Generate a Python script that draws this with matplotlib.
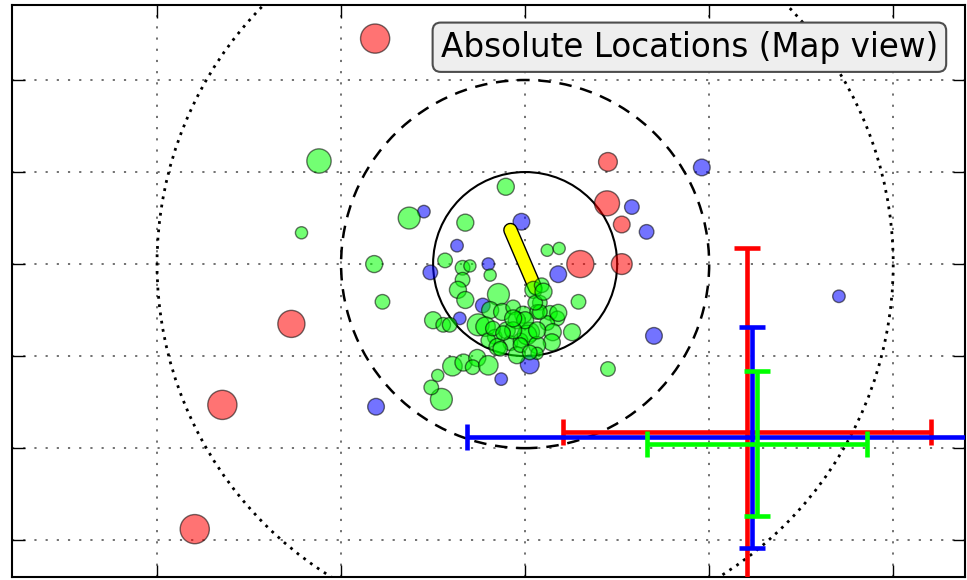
import matplotlib
matplotlib.use("Agg")
from matplotlib import pyplot as plt
from matplotlib.patches import Circle
from matplotlib.ticker import MultipleLocator
import matplotlib.patheffects as pe

# event locations (km, relative to centre) and marker radius
red_x = [-1.63, 0.90, 0.89, 1.05, 0.60, 1.05, -2.54, -3.29, -3.59]
red_y = [2.45, 1.11, 0.66, 0.43, 0.00, 0.00, -0.65, -1.53, -2.88]
red_r = [14, 9, 12, 8, 13, 10, 13, 14, 14]

blue_x = [1.92, 1.16, 1.32, -1.10, -0.04, -0.74, -0.40, 0.36, -1.03, 3.41,
          1.40, 0.05, -0.26, -1.62, -0.46, -0.71]
blue_y = [1.05, 0.62, 0.35, 0.57, 0.46, 0.20, 0.00, -0.11, -0.09, -0.35,
          -0.78, -1.09, -1.25, -1.55, -0.45, -0.59]
blue_r = [8, 7, 7, 6, 8, 6, 6, 8, 7, 6, 8, 9, 6, 8, 7, 6]

green_x = [-2.24, -2.43, -1.26, -1.64, -1.55, -0.21, -0.65, -0.87, -0.68, -0.60,
           0.24, 0.37, 0.58, 0.51, 0.90, -0.91, -1.02, -0.95, -0.79, -0.67,
           -0.52, -0.57, -0.40, -0.68, -0.38, -0.73, -0.65, -0.29, 0.09, 0.18,
           0.16, -1.00, -0.89, -0.82, -0.51, -0.38, -0.25, -0.13, -0.02, 0.13,
           0.27, 0.35, -0.43, -0.33, -0.40, -0.20, -0.09, 0.05, 0.24, 0.30,
           -0.16, -0.05, 0.02, 0.29, -0.30, 0.13, -0.09, 0.13,
           0.00, -0.35, -0.13, 0.13, -0.24, -0.05, 0.05, 0.16, 0.36, -0.13,
           0.11, -0.27, 0.20]
green_y = [1.12, 0.34, 0.50, 0.00, -0.41, 0.84, 0.45, 0.04, -0.04, -0.02,
           0.15, 0.17, -0.41, -0.74, -1.14, -1.47, -1.34, -1.21, -1.11, -1.07,
           -1.02, -1.12, -1.10, -0.17, -0.12, -0.28, -0.39, -0.33, -0.28, -0.23,
           -0.42, -0.61, -0.66, -0.66, -0.66, -0.50, -0.52, -0.47, -0.55, -0.52,
           -0.53, -0.59, -0.68, -0.79, -0.83, -0.72, -0.61, -0.74, -0.64, -0.74,
           -0.86, -0.83, -0.77, -0.85, -0.90, -0.88, -0.99, -0.97,
           -0.61, -0.70, -0.72, -0.72, -0.75, -0.88, -0.96, -0.52, -0.53, -0.59,
           -0.42, -0.92, -0.30]
green_r = [10, 5, 9, 7, 6, 7, 7, 6, 6, 5,
           5, 5, 6, 7, 6, 9, 6, 5, 8, 7,
           7, 6, 8, 6, 5, 7, 7, 9, 7, 6,
           6, 7, 6, 6, 9, 7, 7, 6, 7, 6,
           6, 6, 8, 6, 6, 7, 7, 8, 6, 7,
           6, 6, 8, 7, 7, 7, 7, 5,
           7, 6, 7, 7, 6, 6, 6, 6, 7, 7,
           6, 6, 7]

# fault stick
stick_x = [-0.16, 0.11]
stick_y = [0.37, -0.26]

# error crosses: x, y, xerr, yerr
err_x = [2.41, 2.46, 2.52]
err_y = [-1.82, -1.88, -1.95]
err_dx = [2.0, 3.09, 1.2]
err_dy = [2.0, 1.2, 0.79]
err_col = ["#ff0000", "#0000ff", "#00ff00"]

radii = [1, 2, 4]

fig = plt.figure(figsize=(9.67, 5.8), dpi=100)
ax = fig.add_axes([12 / 967, 3 / 580, 953 / 967, 572 / 580])
ax.set_xlim(-5.576, 4.78)
ax.set_ylim(-3.40, 2.815)

ax.xaxis.set_major_locator(MultipleLocator(2))
ax.yaxis.set_major_locator(MultipleLocator(1))
ax.tick_params(direction="in", length=9, width=1, top=True, right=True,
               labelbottom=False, labelleft=False)
ax.grid(True, linestyle=(0, (1.2, 5)), color="0.4", linewidth=1.3)
for s in ax.spines.values():
    s.set_linewidth(1.5)

ax.add_patch(Circle((0, 0), radii[0], fill=False, ec="k", lw=1.5, zorder=3))
ax.add_patch(Circle((0, 0), radii[1], fill=False, ec="k", lw=1.8, ls=(0, (5, 3.5)), zorder=3))
ax.add_patch(Circle((0, 0), radii[2], fill=False, ec="k", lw=2.0, ls=(0, (1, 2)), zorder=3))

def sz(r, k=1.5):
    return [(k * v) ** 2 for v in r]

ax.scatter(red_x, red_y, s=sz(red_r), c="#ff0000", alpha=0.55, edgecolors="k", linewidths=1, zorder=4)
ax.scatter(blue_x, blue_y, s=sz(blue_r), c="#0000ff", alpha=0.55, edgecolors="k", linewidths=1, zorder=4)
ax.plot(stick_x, stick_y, color="yellow", lw=8.5, solid_capstyle="round", zorder=5,
        path_effects=[pe.Stroke(linewidth=10.5, foreground="k"), pe.Normal()])
ax.scatter(green_x, green_y, s=sz(green_r, 1.75), c="#00ff00", alpha=0.55, edgecolors="k", linewidths=1, zorder=6)

for i in range(3):
    ax.errorbar(err_x[i], err_y[i], xerr=err_dx[i], yerr=err_dy[i], color=err_col[i],
                lw=3.3, capsize=9.5, capthick=3.3, zorder=7)

ax.text(0.9717, 0.955, "Absolute Locations (Map view)", transform=ax.transAxes,
        ha="right", va="top", fontsize=23.5, zorder=10,
        bbox=dict(boxstyle="round,pad=0.25", fc="#eeeeee", ec="0.3", lw=1.5))

fig.savefig("out.png", dpi=100)
